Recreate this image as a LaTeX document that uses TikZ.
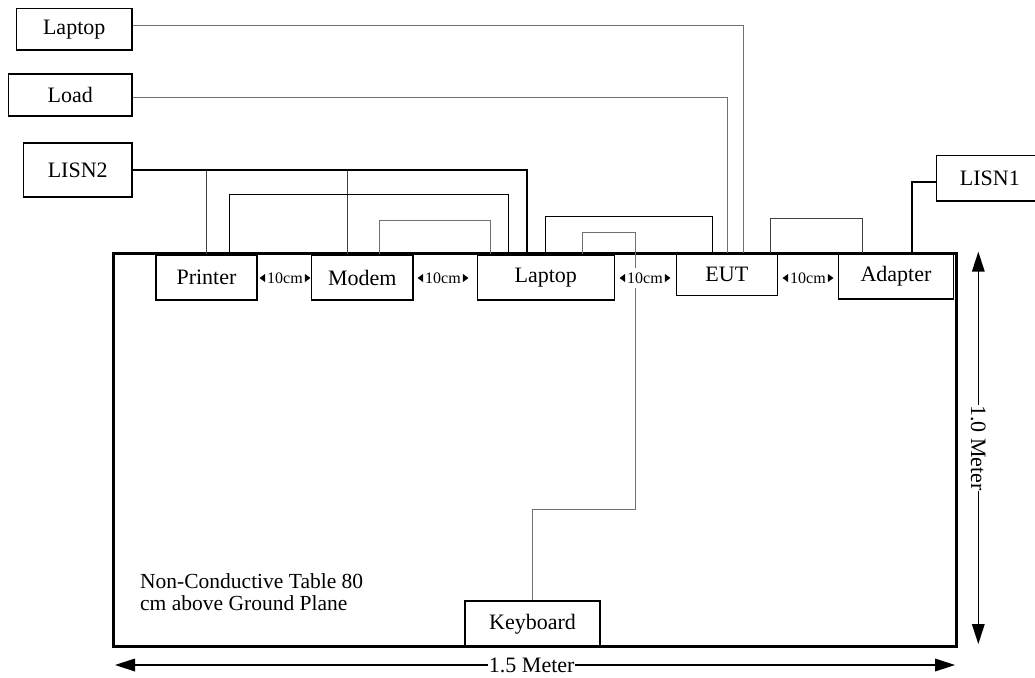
\documentclass[tikz,border=0pt]{standalone}
\usepackage{fontspec}
\setmainfont{Liberation Serif}
\definecolor{wiregray}{HTML}{707070}
\definecolor{wiredark}{HTML}{404040}

\begin{document}
\begin{tikzpicture}[x=1pt,y=-1pt]
                \useasboundingbox (0,0) rectangle (1035,677);
                \tikzstyle{every node}+=[inner sep=0pt, font=\fontsize{22}{24}\selectfont]
                \tikzstyle{box}=[draw, line width=1.4pt]
                \tikzstyle{wire}=[line width=1pt]
                \tikzstyle{gap}=[fill=white, inner xsep=1pt, inner ysep=5pt, font=\fontsize{16}{17}\selectfont]
                \node [draw, line width=3pt, minimum width=842.5, minimum height=393.4] (tbl) at (534.75,450) {};
                \node [box, minimum width=115.7, minimum height=41.7] (laptopA) at (74.2,29.2) {Laptop};
                \node [box, minimum width=123.3, minimum height=42] (load) at (70.3,95) {Load};
                \node [box, minimum width=108.7, minimum height=54] (lisnB) at (77.7,170) {LISN2};
                \node [box, minimum width=106.3, minimum height=45.3] (lisnA) at (989.8,178.3) {LISN1};
                \node [box, minimum width=101, minimum height=45] (printer) at (206.5,277.5) {Printer};
                \node [box, minimum width=101.3, minimum height=45] (modem) at (362.3,277.5) {Modem};
                \node [box, minimum width=137, minimum height=45] (laptopB) at (545.8,277.5) {Laptop};
                \node [box, minimum width=101, minimum height=42.4] (eut) at (726.8,274.5) {EUT};
                \node [box, minimum width=114.6, minimum height=45.7] (adapter) at (896,276.2) {Adapter};
                \node [box, minimum width=135, minimum height=45.7] (keyboard) at (532.5,623.8) {Keyboard};
                \draw [wire, wiregray] ([yshift=3.5]laptopA.east) -| ([xshift=16.5]eut.north);
                \draw [wire, wiregray] ([yshift=-2.7]load.east) -| ([xshift=0.5]eut.north);
                \draw [wire, wiredark, line width=1.3pt] (printer.north |- lisnB.east) -- (printer.north);
                \draw [wire, wiredark, line width=1.3pt] ([xshift=-14.6]modem.north |- lisnB.east) -- ([xshift=-14.6]modem.north);
                \draw [line width=2pt] (lisnB.east) -| ([xshift=-18.5]laptopB.north);
                \draw [wire] ([xshift=22.8]printer.north) -- ++(0,-60) -| ([xshift=-37.5]laptopB.north);
                \draw [wire, wiregray] ([xshift=17.4]modem.north) -- ++(0,-34.3) -| ([xshift=-55.8]laptopB.north);
                \draw [wire] (laptopB.north) -- ++(0,-38.3) -| ([xshift=-14.8]eut.north);
                \draw [wire, wiredark] ([xshift=43.9]eut.north) -- ++(0,-34.3) -| ([xshift=-33.7]adapter.north);
                \draw [line width=2pt] ([xshift=15.7]adapter.north) |- ([yshift=-3.4]lisnA.west);
                \coordinate (kbtop) at (635.7,232.7);
                \coordinate (kbbend) at (635.7,509);
                \draw [wire, wiregray] ([xshift=36.2]laptopB.north) |- (kbtop) -- (kbbend) -| (keyboard.north);
                \node [gap] (g1) at (285,278) {10cm};
                \node [gap] (g2) at (443,278) {10cm};
                \node [gap] (g3) at (645,278) {10cm};
                \node [gap] (g4) at (808,278) {10cm};
                \fill ([xshift=-6.5]g1.west) -- ++(5.5,-4) -- ++(0,8) -- cycle;
                \fill ([xshift=6.5]g1.east) -- ++(-5.5,-4) -- ++(0,8) -- cycle;
                \fill ([xshift=-6.5]g2.west) -- ++(5.5,-4) -- ++(0,8) -- cycle;
                \fill ([xshift=6.5]g2.east) -- ++(-5.5,-4) -- ++(0,8) -- cycle;
                \fill ([xshift=-6.5]g3.west) -- ++(5.5,-4) -- ++(0,8) -- cycle;
                \fill ([xshift=6.5]g3.east) -- ++(-5.5,-4) -- ++(0,8) -- cycle;
                \fill ([xshift=-6.5]g4.west) -- ++(5.5,-4) -- ++(0,8) -- cycle;
                \fill ([xshift=6.5]g4.east) -- ++(-5.5,-4) -- ++(0,8) -- cycle;
                \node [anchor=west, align=left, font=\fontsize{21.5}{21.7}\selectfont] (note) at (140,592) {Non-Conductive Table 80\\cm above Ground Plane};
                \coordinate (wl) at (115,665);
                \coordinate (wr) at (955,665);
                \draw [line width=1.3pt] ([xshift=10]wl) -- ([xshift=-10]wr) node [pos=0.496, fill=white, inner sep=0.5pt] (wlbl) {1.5 Meter};
                \fill (wl) -- ++(20,-6.5) -- ++(0,13) -- cycle;
                \fill (wr) -- ++(-20,-6.5) -- ++(0,13) -- cycle;
                \coordinate (ht) at (978.3,251.7);
                \coordinate (hb) at (978.3,644);
                \draw [line width=1.3pt] ([yshift=-10]ht) -- ([yshift=10]hb) node [midway, fill=white, inner sep=0.5pt, rotate=-90] (hlbl) {1.0 Meter};
                \fill (ht) -- ++(-6.5,20) -- ++(13,0) -- cycle;
                \fill (hb) -- ++(-6.5,-20) -- ++(13,0) -- cycle;
\end{tikzpicture}
\end{document}
